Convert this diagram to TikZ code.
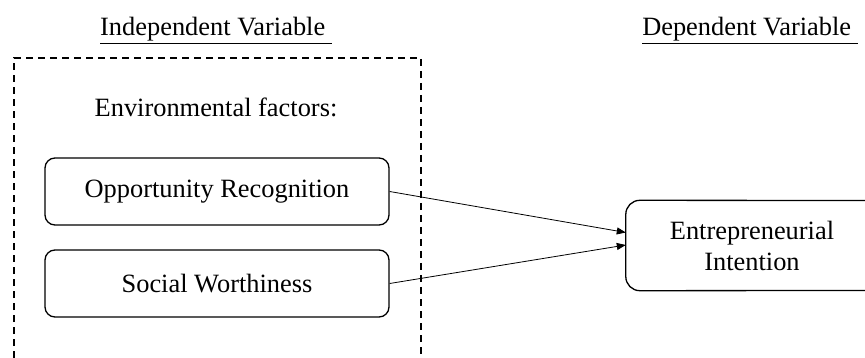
\documentclass[tikz,border=0pt]{standalone}
\usepackage{fontspec}
\setmainfont{Liberation Serif}
\usetikzlibrary{arrows.meta,calc}
\begin{document}
\begin{tikzpicture}[x=1pt,y=-1pt,
  every node/.style={font=\fontsize{26.4}{31}\selectfont, inner sep=0pt},
  factorbox/.style={draw, line width=1.3pt, rounded corners=10pt, minimum width=344pt, minimum height=67pt},
  groupbox/.style={line width=1.4pt, dash pattern=on 7pt off 5pt},
  arr/.style={line width=0.8pt, -{Triangle[length=9pt,width=7pt]}},
  heading/.style={anchor=base}
]
\useasboundingbox (0,0) rectangle (865,358);
% headings
\node[heading] (iv) at (216,36) {\underline{Independent Variable\ }};
\node[heading] (dv) at (750,36) {\underline{Dependent Variable\ }};
% dashed group (open at bottom)
\coordinate (gbl) at (14,358);
\coordinate (gtl) at (14,58);
\coordinate (gtr) at (421,58);
\coordinate (gbr) at (421,358);
\draw[groupbox] (gbl) -- (gtl) -- (gtr) -- (gbr);
\node[heading] (env) at (216,117) {Environmental factors:};
% factor boxes
\node[factorbox] (opp) at (217,191.5) {Opportunity Recognition};
\node[factorbox] (soc) at (217,283.5) {Social Worthiness};
% dependent box (cut at right edge)
\node[minimum width=252pt, minimum height=90pt, align=center, font=\fontsize{26.4}{31}\selectfont] (ei) at (752,245.5) {Entrepreneurial\\Intention};
\coordinate (eitr) at (866,200.5);
\coordinate (eibr) at (866,290.5);
\draw[line width=1.3pt, rounded corners=14pt] (eitr) -- (ei.north west) -- (ei.south west) -- (eibr);
% arrows
\draw[arr] (opp.east) -- ([yshift=13pt]ei.west);
\draw[arr] (soc.east) -- ([yshift=0.5pt]ei.west);
\end{tikzpicture}
\end{document}
